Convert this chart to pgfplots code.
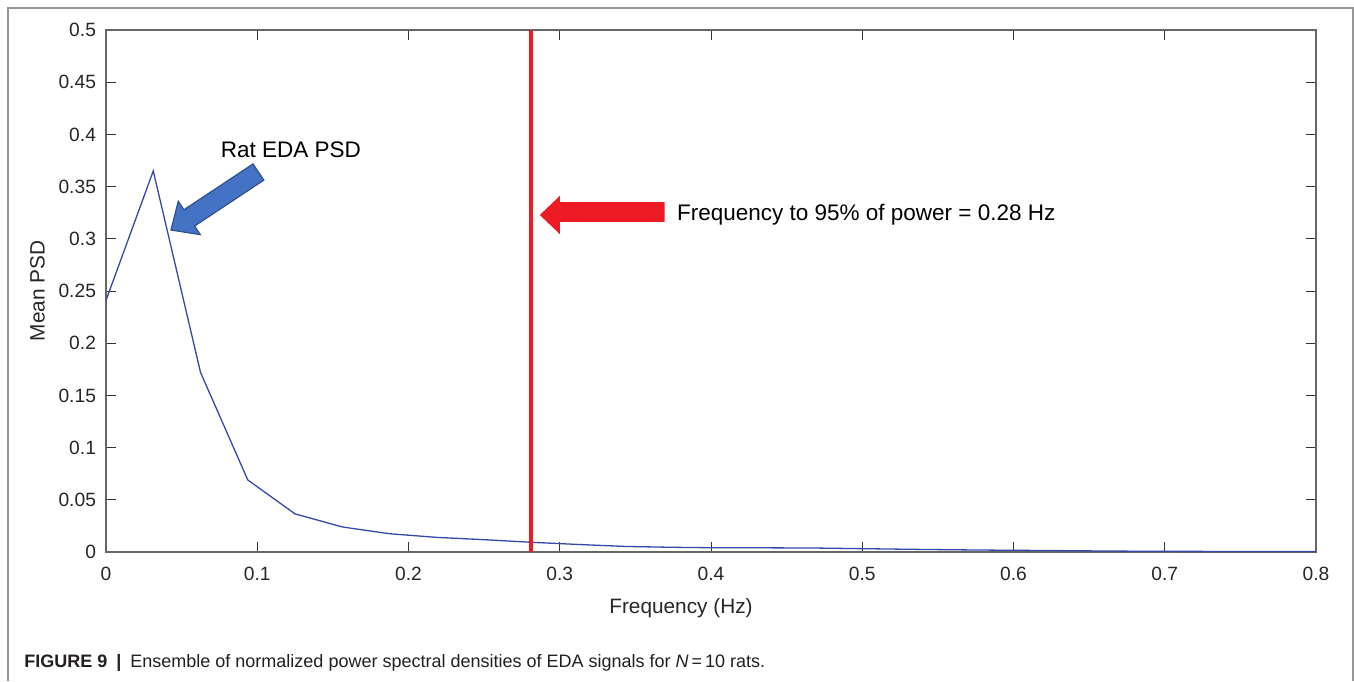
\documentclass[border=0pt]{standalone}
\usepackage{pgfplots}
\pgfplotsset{compat=1.18}
\usepackage{fontspec}
\setmainfont{Liberation Sans}

\definecolor{psdblue}{RGB}{52,72,172}
\definecolor{markred}{RGB}{237,28,36}
\definecolor{arrowblue}{RGB}{68,114,196}
\definecolor{arrowedge}{RGB}{47,82,143}
\definecolor{framegray}{RGB}{150,150,150}
\definecolor{captext}{RGB}{35,31,32}

\begin{document}
\begin{tikzpicture}[x=1pt,y=1pt]
\useasboundingbox (0,0) rectangle (677,340.5);
% figure frame (bottom edge cut off in the original)
\draw[framegray, line width=0.6pt] (4,0) -- (4,336.5) -- (676.5,336.5) -- (676.5,0);

\begin{axis}[
    at={(53pt,64.5pt)},
    anchor=south west,
    scale only axis,
    width=605pt,
    height=261pt,
    xmin=0, xmax=0.8,
    ymin=0, ymax=0.5,
    xtick={0,0.1,0.2,0.3,0.4,0.5,0.6,0.7,0.8},
    ytick={0,0.05,0.1,0.15,0.2,0.25,0.3,0.35,0.4,0.45,0.5},
    scaled ticks=false,
    /pgf/number format/fixed,
    /pgf/number format/assume math mode=true,
    tick align=inside,
    major tick length=5pt,
    tick style={black!80, line width=0.5pt},
    axis line style={black!60, line width=0.6pt},
    ticklabel style={font=\fontsize{9.6}{11}\selectfont, text=black!85},
    xticklabel style={yshift=-4pt},
    yticklabel style={xshift=-1.5pt},
    xlabel={Frequency (Hz)},
    ylabel={Mean PSD},
    label style={font=\fontsize{10.4}{12}\selectfont, text=black!85},
    xlabel style={yshift=-1.8pt, xshift=-15pt},
    ylabel style={yshift=0pt},
    clip=true,
]

% mean normalized PSD, sampled every 1/32 Hz
\addplot[psdblue, line width=0.65pt] coordinates {
    (0,0.241) (0.03125,0.365) (0.0625,0.172) (0.09375,0.069)
    (0.125,0.0365) (0.15625,0.024) (0.1875,0.0175) (0.21875,0.014)
    (0.25,0.0118) (0.28125,0.0093) (0.3125,0.0072) (0.34375,0.0053)
    (0.375,0.0045) (0.40625,0.0040) (0.4375,0.0040) (0.46875,0.0038)
    (0.5,0.0032) (0.53125,0.0026) (0.5625,0.0021) (0.59375,0.0017)
    (0.625,0.0014) (0.65625,0.0010) (0.6875,0.0007) (0.71875,0.0006)
    (0.75,0.0005) (0.78125,0.0005) (0.8125,0.0005)
};

% 95% power frequency
\addplot[markred, line width=2pt] coordinates {(0.281,0) (0.281,0.5)};

% red block arrow
\fill[markred] (axis cs:0.2868,0.3228) -- (axis cs:0.3000,0.3410)
    -- (axis cs:0.3000,0.3352) -- (axis cs:0.3694,0.3352)
    -- (axis cs:0.3694,0.3161) -- (axis cs:0.3000,0.3161)
    -- (axis cs:0.3000,0.3046) -- cycle;
\node[anchor=west, inner sep=0pt, font=\fontsize{11.25}{13}\selectfont]
    at (axis cs:0.3773,0.3228) {Frequency to 95\% of power = 0.28 Hz};

% blue block arrow
\filldraw[fill=arrowblue, draw=arrowedge, line width=0.6pt]
    (axis cs:0.04295,0.3084) -- (axis cs:0.04778,0.3360)
    -- (axis cs:0.05148,0.3278) -- (axis cs:0.09720,0.3717)
    -- (axis cs:0.10434,0.3562) -- (axis cs:0.05861,0.3123)
    -- (axis cs:0.06231,0.3040) -- cycle;
\node[inner sep=0pt, font=\fontsize{11.25}{13}\selectfont]
    at (axis cs:0.1222,0.385) {Rat EDA PSD};

\end{axis}

\node[anchor=west, inner sep=0pt, font=\fontsize{9}{11}\selectfont, text=captext]
    at (12,9) {\textbf{FIGURE 9}\enspace\textbf{|}\enspace Ensemble of normalized power spectral densities of EDA signals for \textit{N}\,=\,10 rats.};
\end{tikzpicture}
\end{document}
